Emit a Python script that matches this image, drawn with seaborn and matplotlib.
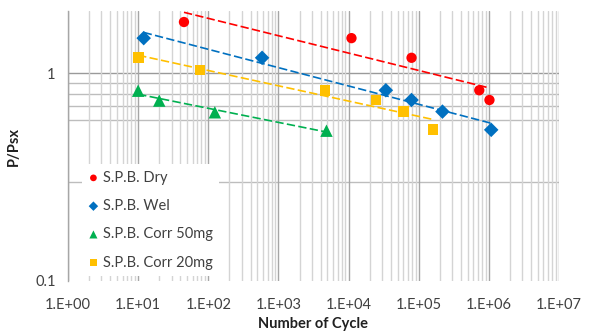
import numpy as np
import pandas as pd
import matplotlib
matplotlib.use("Agg")
import matplotlib.pyplot as plt
import matplotlib.ticker as mticker
import seaborn as sns

# ---- data ----
dry_x = [45, 11000, 79000, 730000, 1020000]
dry_y = [1.77, 1.48, 1.19, 0.83, 0.745]
wet_x = [12, 585, 34000, 79000, 218000, 1080000]
wet_y = [1.48, 1.19, 0.83, 0.745, 0.655, 0.535]
c50_x = [10, 20, 124, 4840]
c50_y = [0.826, 0.74, 0.65, 0.53]
c20_x = [10, 76, 4600, 24700, 61000, 160000]
c20_y = [1.19, 1.04, 0.83, 0.745, 0.655, 0.535]

series_names = ["S.P.B. Dry", "S.P.B. Wel", "S.P.B. Corr 50mg", "S.P.B. Corr 20mg"]
series_x = [dry_x, wet_x, c50_x, c20_x]
series_y = [dry_y, wet_y, c50_y, c20_y]
colors = ["#FF0000", "#0070C0", "#00B050", "#FFC000"]
markers = ["o", "D", "^", "s"]
msizes = [55, 55, 80, 60]

x_tick_vals = [1e0, 1e1, 1e2, 1e3, 1e4, 1e5, 1e6, 1e7]
x_tick_labels = ["1.E+00", "1.E+01", "1.E+02", "1.E+03", "1.E+04", "1.E+05", "1.E+06", "1.E+07"]
y_tick_vals = [0.1, 1]
y_tick_labels = ["0.1", "1"]
y_minor_grid = [0.3, 0.6, 0.7, 0.8, 0.9]

sns.set_style("white")
plt.rcParams["font.family"] = ["Lato", "DejaVu Sans"]

fig = plt.figure(figsize=(5.9, 3.33), dpi=100)
ax = fig.add_axes([68 / 590, 1 - 281 / 333, (559 - 68) / 590, (281 - 11) / 333])
ax.set_xscale("log")
ax.set_yscale("log")
ax.set_xlim(1, 1e7)
ax.set_ylim(0.1, 2)

# gridlines
ax.xaxis.set_major_locator(mticker.FixedLocator(x_tick_vals))
ax.xaxis.set_minor_locator(mticker.LogLocator(base=10, subs=np.arange(2, 10), numticks=20))
ax.yaxis.set_major_locator(mticker.FixedLocator(y_tick_vals))
ax.yaxis.set_minor_locator(mticker.NullLocator())
ax.grid(axis="x", which="major", color="#a6a6a6", lw=1.0, zorder=0)
ax.grid(axis="x", which="minor", color="#d4d4d4", lw=1.0, zorder=0)
ax.axhline(1, color="#9a9a9a", lw=1.0, zorder=0.5)
for v in y_minor_grid:
    ax.axhline(v, color="#bdbdbd", lw=1.0, zorder=0.5)
ax.set_axisbelow(True)

# trend lines (power-law fits) and points
for name, xs, ys, c, m, s in zip(series_names, series_x, series_y, colors, markers, msizes):
    lx, ly = np.log10(xs), np.log10(ys)
    k, b = np.polyfit(lx, ly, 1)
    fx = np.array([min(xs), max(xs)])
    fy = 10 ** (k * np.log10(fx) + b)
    sns.lineplot(x=fx, y=fy, ax=ax, color=c, lw=1.2, linestyle=(0, (5, 2)), zorder=2, legend=False)
for name, xs, ys, c, m, s in zip(series_names, series_x, series_y, colors, markers, msizes):
    df = pd.DataFrame({"x": xs, "y": ys})
    sns.scatterplot(data=df, x="x", y="y", ax=ax, color=c, marker=m, s=s,
                    edgecolor="none", linewidth=0, zorder=3, label=name)

ax.set_xticks(x_tick_vals)
ax.set_xticklabels(x_tick_labels)
ax.set_yticks(y_tick_vals)
ax.set_yticklabels(y_tick_labels)
ax.tick_params(axis="both", which="major", length=4, width=1, color="#a6a6a6",
               labelsize=10.5, labelcolor="#404040", direction="out")
ax.tick_params(axis="x", which="major", pad=8)
ax.tick_params(axis="y", which="major", pad=5)
ax.tick_params(which="minor", length=0)

for sp in ["top", "right", "bottom"]:
    ax.spines[sp].set_visible(False)
ax.spines["left"].set_color("#a6a6a6")
ax.spines["left"].set_linewidth(1)

ax.set_xlabel("Number of Cycle", fontsize=10.5, fontweight="bold", color="#202020", labelpad=4)
ax.set_ylabel("P/Psx", fontsize=10.5, fontweight="bold", color="#202020", labelpad=10)

leg = ax.legend(loc="lower left", bbox_to_anchor=(0.028, 0.018), borderaxespad=0,
                frameon=True, fancybox=False, framealpha=1, edgecolor="white",
                fontsize=10.5, handlelength=0.7, handletextpad=0.3, labelspacing=0.98,
                borderpad=0.45, markerscale=0.65)
leg.get_frame().set_linewidth(0)
leg.set_zorder(5)
for t in leg.get_texts():
    t.set_color("#404040")

fig.savefig("out.png", dpi=100)
